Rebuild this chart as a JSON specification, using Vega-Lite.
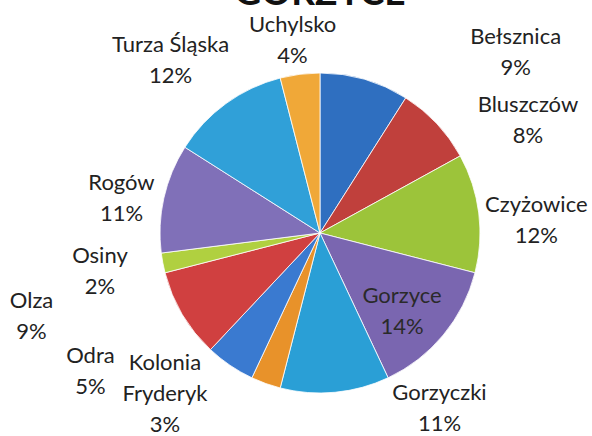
{
  "$schema": "https://vega.github.io/schema/vega-lite/v6.json",
  "autosize": {"type": "none"},
  "width": 544,
  "height": 406,
  "padding": {"left": 48, "top": 30, "right": 0, "bottom": 0},
  "background": "white",
  "config": {"view": {"stroke": null}, "text": {"font": "Lato"}},
  "title": {"text": "GORZYCE", "font": "Lato", "fontSize": 37, "fontWeight": "bold", "color": "#111", "anchor": "middle", "baseline": "alphabetic", "frame": "group", "offset": 0, "dy": 28},
  "data": {"values": [
    {"gmina": "Bełsznica", "value": 9},
    {"gmina": "Bluszczów", "value": 8},
    {"gmina": "Czyżowice", "value": 12},
    {"gmina": "Gorzyce", "value": 14},
    {"gmina": "Gorzyczki", "value": 11},
    {"gmina": "Kolonia Fryderyk", "value": 3},
    {"gmina": "Odra", "value": 5},
    {"gmina": "Olza", "value": 9},
    {"gmina": "Osiny", "value": 2},
    {"gmina": "Rogów", "value": 11},
    {"gmina": "Turza Śląska", "value": 12},
    {"gmina": "Uchylsko", "value": 4}
  ]},
  "transform": [
    {"stack": "value", "groupby": [], "sort": [{"field": "gmina", "order": "ascending"}], "as": ["s0", "s1"]},
    {"calculate": "(datum.s0 + datum.s1) / 2", "as": "mid"},
    {"calculate": "datum.gmina + '\\n' + datum.value + '%'", "as": "label"}
  ],
  "layer": [
    {
      "mark": {"type": "arc", "radius": 160, "stroke": "#ffffff", "strokeWidth": 0.8},
      "encoding": {
        "theta": {"field": "s0", "type": "quantitative", "scale": {"domain": [0, 100]}},
        "theta2": {"field": "s1"},
        "color": {"field": "gmina", "type": "nominal", "legend": null,
          "scale": {"domain": ["Bełsznica", "Bluszczów", "Czyżowice", "Gorzyce", "Gorzyczki", "Kolonia Fryderyk", "Odra", "Olza", "Osiny", "Rogów", "Turza Śląska", "Uchylsko"],
                    "range": ["#2f6fc0", "#c0403c", "#9cc43a", "#7a66b0", "#2a9fd6", "#e8922a", "#3a7ad0", "#d04040", "#b0d040", "#8070b8", "#30a0d8", "#f0a838"]}}
      }
    },
    {
      "transform": [{"filter": "datum.gmina == 'Uchylsko'"}],
      "mark": {"type": "text", "radius": 195, "dx": -3, "dy": -15, "fontSize": 22, "lineHeight": 31, "lineBreak": "\n", "color": "#222", "baseline": "middle", "align": "center"},
      "encoding": {"theta": {"field": "mid", "type": "quantitative"}, "text": {"field": "label"}}
    },
    {
      "transform": [{"filter": "datum.gmina == 'Turza Śląska'"}],
      "mark": {"type": "text", "radius": 227, "dx": -16, "dy": -4, "fontSize": 22, "lineHeight": 31, "lineBreak": "\n", "color": "#222", "baseline": "middle", "align": "center"},
      "encoding": {"theta": {"field": "mid", "type": "quantitative"}, "text": {"field": "label"}}
    },
    {
      "transform": [{"filter": "datum.gmina == 'Bełsznica'"}],
      "mark": {"type": "text", "radius": 228, "dx": 132, "dy": 23, "fontSize": 22, "lineHeight": 31, "lineBreak": "\n", "color": "#222", "baseline": "middle", "align": "center"},
      "encoding": {"theta": {"field": "mid", "type": "quantitative"}, "text": {"field": "label"}}
    },
    {
      "transform": [{"filter": "datum.gmina == 'Bluszczów'"}],
      "mark": {"type": "text", "radius": 229, "dx": 41, "dy": 29, "fontSize": 22, "lineHeight": 31, "lineBreak": "\n", "color": "#222", "baseline": "middle", "align": "center"},
      "encoding": {"theta": {"field": "mid", "type": "quantitative"}, "text": {"field": "label"}}
    },
    {
      "transform": [{"filter": "datum.gmina == 'Czyżowice'"}],
      "mark": {"type": "text", "radius": 216, "dx": 2, "dy": -1, "fontSize": 22, "lineHeight": 31, "lineBreak": "\n", "color": "#222", "baseline": "middle", "align": "center"},
      "encoding": {"theta": {"field": "mid", "type": "quantitative"}, "text": {"field": "label"}}
    },
    {
      "transform": [{"filter": "datum.gmina == 'Gorzyce'"}],
      "mark": {"type": "text", "radius": 113, "dx": -5, "dy": -9, "fontSize": 22, "lineHeight": 31, "lineBreak": "\n", "color": "#2a2a2a", "baseline": "middle", "align": "center"},
      "encoding": {"theta": {"field": "mid", "type": "quantitative"}, "text": {"field": "label"}}
    },
    {
      "transform": [{"filter": "datum.gmina == 'Gorzyczki'"}],
      "mark": {"type": "text", "radius": 186, "dx": 102, "dy": -25, "fontSize": 22, "lineHeight": 31, "lineBreak": "\n", "color": "#222", "baseline": "middle", "align": "center"},
      "encoding": {"theta": {"field": "mid", "type": "quantitative"}, "text": {"field": "label"}}
    },
    {
      "transform": [{"filter": "datum.gmina == 'Kolonia Fryderyk'"}, {"calculate": "replace(datum.gmina, ' ', '\\n') + '\\n' + datum.value + '%'", "as": "label3"}],
      "mark": {"type": "text", "radius": 204, "dx": -86, "dy": -62, "fontSize": 22, "lineHeight": 31, "lineBreak": "\n", "color": "#222", "baseline": "middle", "align": "center"},
      "encoding": {"theta": {"field": "mid", "type": "quantitative"}, "text": {"field": "label3"}}
    },
    {
      "transform": [{"filter": "datum.gmina == 'Odra'"}],
      "mark": {"type": "text", "radius": 243, "dx": -93, "dy": -78, "fontSize": 22, "lineHeight": 31, "lineBreak": "\n", "color": "#222", "baseline": "middle", "align": "center"},
      "encoding": {"theta": {"field": "mid", "type": "quantitative"}, "text": {"field": "label"}}
    },
    {
      "transform": [{"filter": "datum.gmina == 'Olza'"}],
      "mark": {"type": "text", "radius": 291, "dx": -38, "dy": -80, "fontSize": 22, "lineHeight": 31, "lineBreak": "\n", "color": "#222", "baseline": "middle", "align": "center"},
      "encoding": {"theta": {"field": "mid", "type": "quantitative"}, "text": {"field": "label"}}
    },
    {
      "transform": [{"filter": "datum.gmina == 'Osiny'"}],
      "mark": {"type": "text", "radius": 223, "dx": -1, "dy": -19, "fontSize": 22, "lineHeight": 31, "lineBreak": "\n", "color": "#222", "baseline": "middle", "align": "center"},
      "encoding": {"theta": {"field": "mid", "type": "quantitative"}, "text": {"field": "label"}}
    },
    {
      "transform": [{"filter": "datum.gmina == 'Rogów'"}],
      "mark": {"type": "text", "radius": 186, "dx": -17, "dy": -9, "fontSize": 22, "lineHeight": 31, "lineBreak": "\n", "color": "#222", "baseline": "middle", "align": "center"},
      "encoding": {"theta": {"field": "mid", "type": "quantitative"}, "text": {"field": "label"}}
    }
  ]
}
